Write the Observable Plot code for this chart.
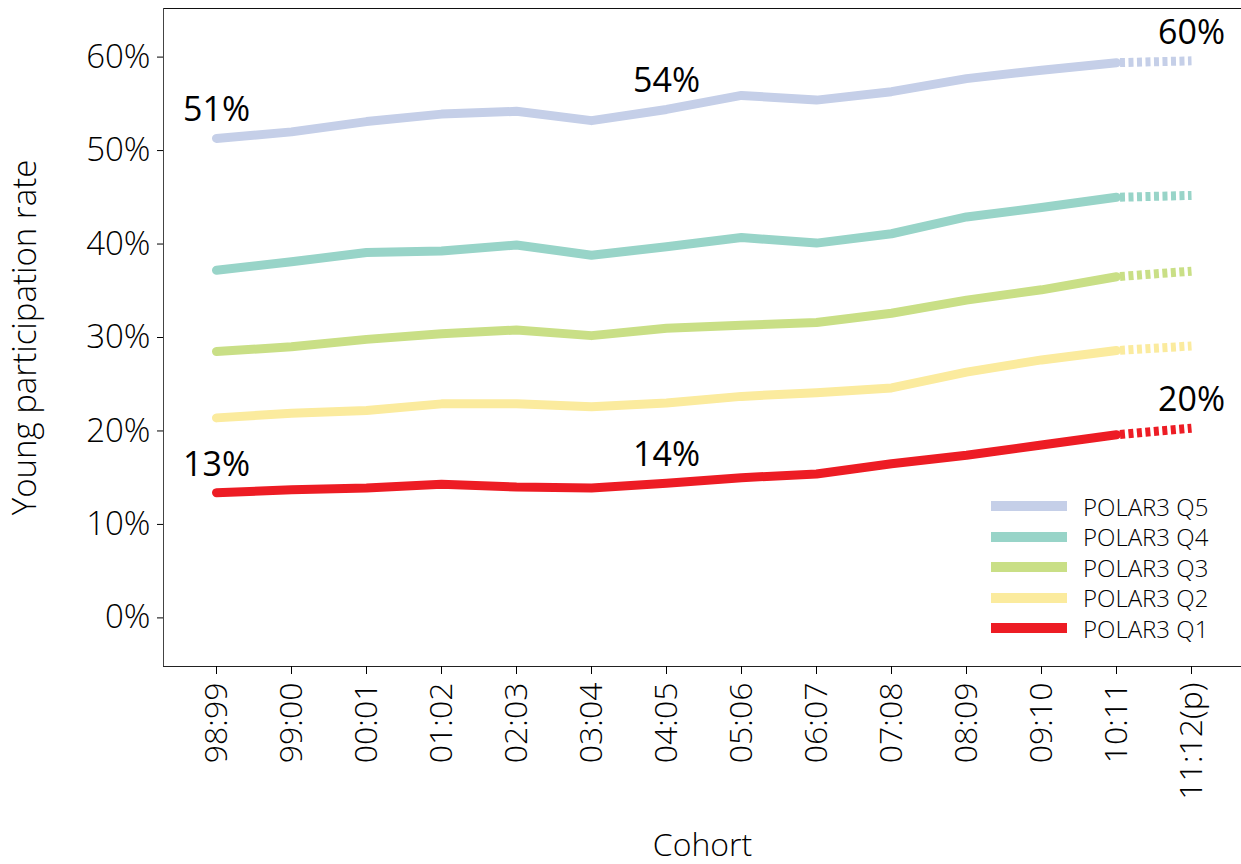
<!DOCTYPE html>
<html><head><meta charset="utf-8">
<script src="https://cdn.jsdelivr.net/npm/d3@7"></script>
<script src="https://cdn.jsdelivr.net/npm/@observablehq/plot@0.6"></script>
<style>
body{margin:0;background:#fff;}
#wrap{position:relative;width:1241px;height:864px;overflow:hidden;font-family:"Open Sans",sans-serif;}
#legend{position:absolute;left:991px;top:491px;}
.row{display:flex;align-items:center;height:30.5px;}
.sw{width:76px;height:10px;margin-right:16px;}
.lab{font-size:24px;color:#000;font-weight:300;}
</style></head><body><div id="wrap"></div>
<script>
const cohorts = ["98:99","99:00","00:01","01:02","02:03","03:04","04:05","05:06","06:07","07:08","08:09","09:10","10:11","11:12(p)"];
const seriesNames = ["POLAR3 Q5","POLAR3 Q4","POLAR3 Q3","POLAR3 Q2","POLAR3 Q1"];
const seriesColors = ["#c5cfe8","#98d4c8","#c9df86","#fbeb9e","#ed1c24"];
const q5 = [51.3,52.0,53.1,53.9,54.2,53.2,54.4,55.9,55.4,56.3,57.7,58.6,59.4,59.6];
const q4 = [37.2,38.1,39.1,39.25,39.9,38.8,39.7,40.7,40.1,41.1,42.9,43.9,45.0,45.2];
const q3 = [28.5,29.0,29.8,30.4,30.8,30.2,31.0,31.3,31.6,32.6,34.0,35.1,36.5,37.1];
const q2 = [21.4,21.9,22.2,22.9,22.9,22.6,23.0,23.7,24.1,24.6,26.3,27.6,28.6,29.1];
const q1 = [13.4,13.7,13.9,14.3,14.0,13.9,14.4,15.0,15.4,16.5,17.4,18.5,19.6,20.3];
const yTicks = [0,10,20,30,40,50,60];
const labelCohorts = ["98:99","04:05","11:12(p)"];
const labelSeries = ["POLAR3 Q5","POLAR3 Q1"];
const projectedFrom = "10:11";

const valuesBySeries = [q5,q4,q3,q2,q1];
const data = [];
seriesNames.forEach((s, si) => cohorts.forEach((c, ci) => data.push({series: s, cohort: c, i: ci, value: valuesBySeries[si][ci]})));
const pIdx = cohorts.indexOf(projectedFrom);
const solid = data.filter(d => d.i <= pIdx);
const dashed = data.filter(d => d.i >= pIdx);
const labels = data.filter(d => labelCohorts.includes(d.cohort) && labelSeries.includes(d.series));

const font = '"Open Sans", sans-serif';
const chart = Plot.plot({
  width: 1241, height: 864,
  marginTop: 8, marginLeft: 163, marginRight: 0, marginBottom: 198,
  style: {fontFamily: font, background: "white", color: "#000"},
  x: {type: "point", domain: cohorts, range: [211.3, 1196], padding: 0},
  y: {domain: [-5.2, 65.2]},
  color: {domain: seriesNames, range: seriesColors},
  marks: [
    Plot.frame({anchor: "top", stroke: "#111"}),
    Plot.frame({anchor: "left", stroke: "#444"}),
    Plot.frame({anchor: "bottom", stroke: "#222"}),
    Plot.axisY({ticks: yTicks, tickFormat: d => d + "%", tickSize: 6, tickPadding: 7, fontSize: 33, fontWeight: 300, label: null}),
    Plot.axisY({ticks: [], label: "Young participation rate", labelAnchor: "center", labelArrow: "none", labelOffset: 151, fontSize: 33, fontWeight: 300}),
    Plot.axisX({tickSize: 8, tickPadding: 8, tickRotate: -90, fontSize: 32, fontWeight: 300, label: null}),
    Plot.axisX({ticks: [], label: "Cohort", labelAnchor: "center", labelArrow: "none", labelOffset: 189, fontSize: 32, fontWeight: 300}),
    Plot.line(solid, {x: "cohort", y: "value", z: "series", stroke: "series", strokeWidth: 9, strokeLinecap: "round", strokeLinejoin: "round"}),
    Plot.line(dashed, {x: "cohort", y: "value", z: "series", stroke: "series", strokeWidth: 9, strokeLinecap: "butt", strokeDasharray: "5,3.5", strokeDashoffset: 5}),
    Plot.text(labels, {x: "cohort", y: "value", text: d => Math.round(d.value) + "%", dy: -17, lineAnchor: "bottom", fontSize: 34, fill: "#000"})
  ]
});
const wrap = document.getElementById("wrap");
wrap.appendChild(chart);
const legend = document.createElement("div");
legend.id = "legend";
seriesNames.forEach((s, i) => {
  const row = document.createElement("div");
  row.className = "row";
  const sw = document.createElement("div");
  sw.className = "sw";
  sw.style.background = seriesColors[i];
  const lab = document.createElement("span");
  lab.className = "lab";
  lab.textContent = s;
  row.appendChild(sw); row.appendChild(lab);
  legend.appendChild(row);
});
wrap.appendChild(legend);
</script></body></html>
